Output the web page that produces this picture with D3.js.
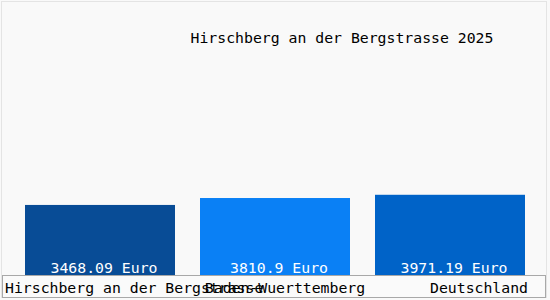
<!DOCTYPE html>
<head>
<meta charset="utf-8">
<title>Hirschberg an der Bergstrasse 2025</title>
<style>
body { margin: 0; background: #f9f9f9; }
text { font-family: "DejaVu Sans Mono", monospace; font-size: 14.8px; }
</style>
</head>
<body>
<svg id="chart" width="550" height="300"></svg>
<script src="https://cdn.jsdelivr.net/npm/d3@7/dist/d3.min.js"></script>
<script>
// data
var title = "Hirschberg an der Bergstrasse 2025";
var categories = ["Hirschberg an der Bergstrasse", "Baden-Wuerttemberg", "Deutschland"];
var values = [3468.09, 3810.9, 3971.19];
var valueLabels = ["3468.09 Euro", "3810.9 Euro", "3971.19 Euro"];
var colors = ["#084c96", "#0a80f5", "#0063c8"];

var svg = d3.select("svg");
var width = 550, baseY = 275;

var x = d3.scaleBand().domain(categories).range([0, width]).padding(1 / 7);
var y = d3.scaleLinear().domain([0, 10000]).range([baseY, 73]);

// frame
svg.append("rect")
    .attr("x", 1.5).attr("y", 1.5)
    .attr("width", 545).attr("height", 296)
    .attr("fill", "none").attr("stroke", "#e4e4e4");

// title
svg.append("text")
    .attr("x", 342).attr("y", 43)
    .attr("text-anchor", "middle")
    .attr("fill", "#000")
    .text(title);

// bars
svg.selectAll(".bar")
    .data(categories)
    .enter().append("rect")
    .attr("class", "bar")
    .attr("x", function (d) { return x(d); })
    .attr("y", function (d, i) { return y(values[i]); })
    .attr("width", x.bandwidth())
    .attr("height", function (d, i) { return baseY - y(values[i]); })
    .attr("fill", function (d, i) { return colors[i]; });

// value labels inside bars
svg.selectAll(".val")
    .data(categories)
    .enter().append("text")
    .attr("class", "val")
    .attr("x", function (d) { return x(d) + x.bandwidth() / 2 + 4; })
    .attr("y", baseY - 2)
    .attr("text-anchor", "middle")
    .attr("fill", "#fff")
    .text(function (d, i) { return valueLabels[i]; });

// label box under axis
svg.append("rect")
    .attr("x", 2.5).attr("y", baseY + 0.5)
    .attr("width", 543).attr("height", 22)
    .attr("fill", "#fafafa").attr("stroke", "#a8a8a8");

// category labels: first left aligned, last right aligned, others centered
svg.selectAll(".cat")
    .data(categories)
    .enter().append("text")
    .attr("class", "cat")
    .attr("x", function (d, i) {
        if (i == 0) return 5;
        if (i == categories.length - 1) return x(d) + x.bandwidth() + 3;
        return x(d) + x.bandwidth() / 2 + 10;
    })
    .attr("y", 293)
    .attr("text-anchor", function (d, i) {
        if (i == 0) return "start";
        if (i == categories.length - 1) return "end";
        return "middle";
    })
    .attr("fill", "#000")
    .text(function (d) { return d; });
</script>
</body>
